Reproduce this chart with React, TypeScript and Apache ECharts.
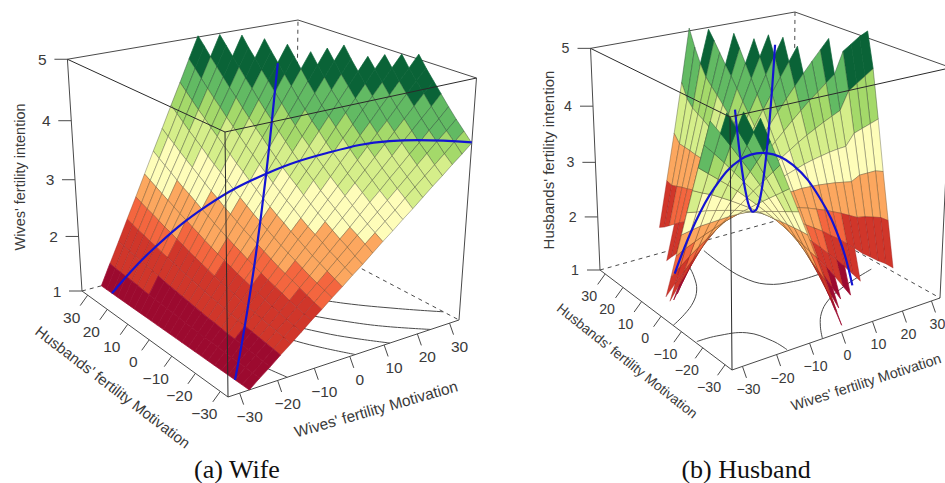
import React, { useEffect, useRef } from "react";
import * as echarts from "echarts";

const LIM = 33;
const _ = null;
const gridAxis = [-33,-30.25,-27.5,-24.75,-22,-19.25,-16.5,-13.75,-11,-8.25,-5.5,-2.75,0,2.75,5.5,8.25,11,13.75,16.5,19.25,22,24.75,27.5,30.25,33];
const ticks = [-30,-20,-10,0,10,20,30];
const zTicks = [1,2,3,4,5];
const bandBreaks = [1.43,2.0,2.29,2.77,3.27,3.8,4.09,4.56,9];
const bandFill = ["#9c0a2f","#d0362a","#f4663f","#fca75f","#fefdb9","#d5ee8a","#a4d96a","#62ba63","#0a6337"];
const bandStroke = ["#9c0a2f","rgba(150,30,30,.5)","rgba(120,60,30,.55)","rgba(110,80,40,.6)","rgba(90,90,70,.6)","rgba(70,80,50,.6)","rgba(60,80,50,.65)","rgba(40,80,50,.65)","#0a6337"];

// Rows run over husbands' motivation (gridAxis), columns over wives' motivation (gridAxis).
const wifeZ = [
[_,_,1,1.14,1.27,1.41,1.54,1.68,1.82,1.95,2.09,2.22,2.36,2.49,2.63,2.77,2.90,3.04,3.17,3.31,3.45,3.58,3.72,3.85,3.99],
[_,_,1,1.14,1.28,1.43,1.57,1.71,1.85,1.99,2.14,2.28,2.42,2.56,2.71,2.85,2.99,3.13,3.28,3.42,3.56,3.70,3.84,3.99,4.13],
[_,_,1,1.15,1.30,1.45,1.60,1.74,1.89,2.04,2.19,2.34,2.49,2.64,2.79,2.93,3.08,3.23,3.38,3.53,3.68,3.83,3.98,4.12,4.27],
[_,_,1,1.16,1.31,1.47,1.62,1.78,1.93,2.09,2.24,2.40,2.55,2.71,2.86,3.02,3.18,3.33,3.49,3.64,3.80,3.95,4.11,4.26,4.42],
[_,_,1,1.16,1.33,1.49,1.65,1.81,1.98,2.14,2.30,2.46,2.63,2.79,2.95,3.11,3.28,3.44,3.60,3.76,3.93,4.09,4.25,4.41,4.58],
[_,_,1,1.17,1.34,1.51,1.68,1.85,2.02,2.19,2.36,2.53,2.70,2.87,3.04,3.21,3.38,3.55,3.72,3.89,4.06,4.23,4.40,4.57,4.74],
[_,_,1,1.18,1.35,1.53,1.71,1.89,2.06,2.24,2.42,2.60,2.77,2.95,3.13,3.31,3.48,3.66,3.84,4.02,4.19,4.37,4.55,4.73,4.90],
[_,_,1,1.19,1.37,1.56,1.74,1.93,2.11,2.30,2.48,2.67,2.85,3.04,3.22,3.41,3.60,3.78,3.97,4.15,4.34,4.52,4.71,4.89,5.08],
[_,_,1,1.19,1.39,1.58,1.78,1.97,2.16,2.36,2.55,2.75,2.94,3.13,3.33,3.52,3.71,3.91,4.10,4.30,4.49,4.68,4.88,5.07],
[_,_,1,1.20,1.40,1.61,1.81,2.01,2.21,2.42,2.62,2.82,3.02,3.23,3.43,3.63,3.83,4.04,4.24,4.44,4.64,4.85,5.05],
[_,_,1,1.21,1.42,1.63,1.84,2.06,2.27,2.48,2.69,2.90,3.11,3.32,3.53,3.75,3.96,4.17,4.38,4.59,4.80,5.01],
[_,_,1,1.22,1.44,1.66,1.88,2.10,2.32,2.54,2.76,2.98,3.20,3.42,3.64,3.86,4.08,4.30,4.52,4.74,4.96],
[_,_,1,1.23,1.46,1.69,1.92,2.15,2.38,2.61,2.84,3.07,3.30,3.53,3.76,3.99,4.22,4.45,4.68,4.91,5.14],
[_,_,1,1.24,1.48,1.72,1.96,2.20,2.44,2.68,2.92,3.16,3.40,3.64,3.88,4.12,4.36,4.60,4.84,5.08],
[_,_,1,1.25,1.50,1.75,2.00,2.25,2.50,2.75,3.00,3.26,3.51,3.76,4.01,4.26,4.51,4.76,5.01],
[_,_,1,1.26,1.52,1.78,2.04,2.31,2.57,2.83,3.09,3.35,3.61,3.87,4.13,4.40,4.66,4.92],
[_,_,1,1.27,1.54,1.82,2.09,2.36,2.63,2.90,3.18,3.45,3.72,3.99,4.26,4.54,4.81,5.08],
[_,_,1,1.28,1.57,1.85,2.13,2.42,2.70,2.98,3.26,3.55,3.83,4.11,4.40,4.68,4.96],
[_,_,1,1.29,1.59,1.88,2.18,2.47,2.77,3.06,3.35,3.65,3.94,4.24,4.53,4.83,5.12],
[_,_,1,1.31,1.61,1.92,2.22,2.53,2.83,3.14,3.45,3.75,4.06,4.36,4.67,4.97],
[_,_,1,1.32,1.63,1.95,2.27,2.59,2.90,3.22,3.54,3.86,4.17,4.49,4.81,5.13],
[_,_,1,1.33,1.66,1.99,2.32,2.65,2.98,3.30,3.63,3.96,4.29,4.62,4.95],
[_,_,1,1.34,1.68,2.02,2.36,2.71,3.05,3.39,3.73,4.07,4.41,4.75,5.09],
[_,_,1,1.35,1.71,2.06,2.41,2.77,3.12,3.47,3.83,4.18,4.54,4.89],
[_,_,1,1.37,1.73,2.10,2.46,2.83,3.20,3.56,3.93,4.29,4.66,5.02],
];
const husbandZ = [
[_,_,_,4.88,4.49,4.09,3.68,3.27,2.85,2.43,2.00,1.56,1.12],
[_,_,4.96,4.62,4.28,3.93,3.57,3.21,2.85,2.47,2.09,1.71,1.31],
[_,4.93,4.65,4.36,4.07,3.77,3.46,3.15,2.84,2.51,2.18,1.85,1.51,1.16],
[4.79,4.57,4.34,4.10,3.86,3.61,3.35,3.09,2.83,2.55,2.28,1.99,1.70,1.40,1.10],
[4.37,4.20,4.02,3.83,3.64,3.45,3.24,3.03,2.82,2.59,2.37,2.13,1.89,1.65,1.39,1.14],
[3.96,3.83,3.70,3.57,3.43,3.28,3.13,2.97,2.80,2.63,2.46,2.27,2.08,1.89,1.69,1.48,1.26,1.04],
[3.54,3.46,3.39,3.30,3.21,3.11,3.01,2.90,2.79,2.67,2.54,2.41,2.27,2.13,1.98,1.82,1.66,1.49,1.31,1.13],
[3.12,3.09,3.07,3.03,2.99,2.95,2.90,2.84,2.77,2.70,2.63,2.55,2.46,2.36,2.26,2.16,2.04,1.93,1.80,1.67,1.53,1.42,1.30,1.20,1.07],
[2.69,2.72,2.75,2.76,2.77,2.78,2.78,2.77,2.76,2.74,2.71,2.68,2.64,2.60,2.55,2.49,2.43,2.36,2.29,2.21,2.13,2.10,2.05,2.00,1.90],
[2.27,2.35,2.42,2.49,2.55,2.61,2.66,2.70,2.74,2.77,2.79,2.82,2.83,2.83,2.84,2.83,2.82,2.80,2.78,2.75,2.72,2.80,2.80,2.80,2.75],
[1.84,1.97,2.10,2.22,2.33,2.44,2.54,2.63,2.72,2.80,2.88,2.95,3.01,3.07,3.12,3.17,3.21,3.24,3.27,3.29,3.30,3.50,3.55,3.60,3.65],
[1.42,1.60,1.77,1.94,2.10,2.26,2.41,2.56,2.70,2.83,2.96,3.08,3.19,3.30,3.40,3.50,3.59,3.67,3.75,3.82,3.89,4.20,4.30,4.40,4.50],
[_,1.22,1.45,1.66,1.88,2.09,2.29,2.48,2.67,2.86,3.03,3.20,3.37,3.53,3.68,3.83,3.97,4.11,4.23,4.36,4.48,4.85,4.95,5.05,5.12],
[_,_,1.12,1.39,1.65,1.91,2.16,2.41,2.65,2.88,3.11,3.33,3.55,3.76,3.96,4.16,4.35,4.54,4.72,4.89,5.06],
[_,_,_,1.11,1.42,1.73,2.04,2.33,2.62,2.91,3.19,3.46,3.73,3.99,4.24,4.49,4.73,4.97],
[_,_,_,_,1.19,1.55,1.90,2.25,2.59,2.93,3.26,3.58,3.90,4.21,4.52,4.82,5.11],
[_,_,_,_,_,1.37,1.78,2.17,2.57,2.95,3.33,3.71,4.07,4.44,4.79,5.14],
[_,_,_,_,_,1.19,1.64,2.09,2.53,2.97,3.40,3.83,4.25,4.66,5.06],
[_,_,_,_,_,1.00,1.51,2.01,2.50,2.99,3.47,3.95,4.42,4.88],
[_,_,_,_,_,_,1.37,1.92,2.47,3.01,3.54,4.07,4.58,5.10],
[_,_,_,_,_,_,1.24,1.84,2.43,3.02,3.61,4.18,4.75],
[_,_,_,_,_,_,1.10,1.75,2.40,3.04,3.67,4.30,4.92],
[_,_,_,_,_,_,_,1.66,2.36,3.05,3.73,4.50,5.08],
[_,_,_,_,_,_,_,1.57,2.32,3.06,3.85,4.75],
[_,_,_,_,_,_,_,1.50,2.35,3.20,4.10,5.05],
];

const wifeCong = [[-27.5,1],[-20,1.46],[-10,2.25],[0,3.3],[10,4.66],[11,4.8]];
const wifeIncong = [[-27.5,1],[-20,1.84],[-10,2.70],[0,3.3],[10,3.7],[20,3.95],[33,4.0]];
const husCong = [[-29,4.99],[-25,4.15],[-20,3.37],[-15,2.9],[-10,2.75],[-5,2.9],[0,3.37],[5,4.15],[9,4.99]];
const husIncong = [[-18,1.05],[-14,1.98],[-10,2.68],[-5,3.22],[0,3.37],[5,3.19],[10,2.65],[14,1.9],[16.5,1.1]];

const wifeContours = [
 [[-17.4,-33],[-18.85,-26],[-19.83,-20],[-21.14,-10],[-22.12,0]],
 [[1.6,-33],[-2.5,-26],[-5.4,-20],[-9.1,-10],[-11.9,0]],
 [[11.7,-33],[6.2,-26],[2.3,-20],[-2.7,-10],[-6.6,0]],
 [[24.1,-33],[16.7,-26],[11.7,-20],[5,-10],[0,0]],
 [[33,-27.5],[25.3,-20],[16.3,-10],[9.5,0]],
];
const husContours = [
 [[-2.6,27.4],[-3.4,16.6],[-3.1,6.9],[-0.2,-0.2],[6.9,-3.1],[16.6,-3.4],[27.4,-2.6]],
 [[-32.5,-16.5],[-26.9,-16.9],[-19.8,-19.8],[-16.9,-26.9],[-16.5,-32.5]],
 [[-33,-6],[-27.5,-2.5],[-22,2],[-17.5,7.5],[-14.1,14.1],[-11.4,21.4],[-9.1,29.1]],
 [[-6,-33],[-2.5,-27.5],[2,-22],[7.5,-17.5],[14.1,-14.1],[21.4,-11.4],[29.1,-9.1]],
];

type Pt = number[];
function makeProjector(O: Pt, U: Pt, V: Pt, T: Pt, D: Pt, LT: Pt, RT: Pt) {
  const h = (p: Pt) => [p[0], p[1], 1];
  const [o, u, v, t, d] = [O, U, V, T, D].map(h);
  const det = (a: Pt, b: Pt, c: Pt) => a[0]*(b[1]*c[2]-b[2]*c[1]) - a[1]*(b[0]*c[2]-b[2]*c[0]) + a[2]*(b[0]*c[1]-b[1]*c[0]);
  const build = (s: number) => {
    const r = [0,1,2].map(i => s*d[i] + 2*o[i]);
    const D0 = det(u, v, t);
    const a = det(r, v, t)/D0, b = det(u, r, t)/D0, c = det(u, v, r)/D0;
    const c1 = [0,1,2].map(i => a*u[i]-o[i]);
    const c2 = [0,1,2].map(i => b*v[i]-o[i]);
    const c3 = [0,1,2].map(i => c*t[i]-o[i]);
    return (x: number, y: number, z: number) => {
      const q = [0,1,2].map(i => x*c1[i]+y*c2[i]+z*c3[i]+o[i]);
      return [q[0]/q[2], q[1]/q[2]];
    };
  };
  let best = 1, bestErr = Infinity;
  for (let k = -400; k <= 400; k++) {
    const s = Math.exp(k/100), f = build(s);
    const a = f(0,1,1), b = f(1,0,1);
    const e = (a[0]-LT[0])**2+(a[1]-LT[1])**2+(b[0]-RT[0])**2+(b[1]-RT[1])**2;
    if (e < bestErr) { bestErr = e; best = s; }
  }
  const f = build(best);
  return (w: number, hh: number, z: number) => f((w+LIM)/(2*LIM), (hh+LIM)/(2*LIM), (z-1)/4);
}

const wifeProj = makeProjector([228,397],[459,320],[82,291],[225,132],[298,20],[69,59],[475,79]);
const husProj = makeProjector([732,370],[940,298],[600,270],[730,117],[795,12],[588,49],[948,68]);

const lineColor = "#4a4a4a";
function panelSeries(proj: any, table: any[][], cong: number[][], incong: number[][], contours: number[][][]) {
  const cells: number[][] = [];
  for (let i = 23; i >= 0; i--) for (let j = 23; j >= 0; j--) {
    if (table[i][j]!=null && table[i+1][j]!=null && table[i][j+1]!=null && table[i+1][j+1]!=null) cells.push([i,j]);
  }
  const seg = (pts: number[][], opt: any = {}) => ({ pts, ...opt });
  const backLines = [
    seg([proj(-LIM,LIM,5),proj(LIM,LIM,5),proj(LIM,-LIM,5)]),
    seg([proj(-LIM,LIM,1),proj(LIM,LIM,1),proj(LIM,-LIM,1)],{dash:[4,4]}),
    seg([proj(LIM,LIM,1),proj(LIM,LIM,5)],{dash:[4,4]}),
    seg([proj(-LIM,LIM,1),proj(-LIM,LIM,5)]),
    seg([proj(LIM,-LIM,1),proj(LIM,-LIM,5)]),
    seg([proj(-LIM,LIM,1),proj(-LIM,-LIM,1),proj(LIM,-LIM,1)]),
  ];
  ticks.forEach(t => {
    const a = proj(-LIM,t,1); backLines.push(seg([a,[a[0]-7.5,a[1]+10.5]]));
    const b = proj(t,-LIM,1); backLines.push(seg([b,[b[0]+4,b[1]+11.5]]));
  });
  zTicks.forEach(z => { const a = proj(-LIM,LIM,z); backLines.push(seg([a,[a[0]-13,a[1]]])); });
  contours.forEach(c => backLines.push(seg(c.map(p => proj(p[0],p[1],1)),{smooth:true})));
  const frontLines = [
    seg([proj(-LIM,LIM,5),proj(-LIM,-LIM,5),proj(LIM,-LIM,5)],{color:"#2a2a2a"}),
    seg([proj(-LIM,-LIM,1),proj(-LIM,-LIM,5)],{color:"#2a2a2a"}),
  ];
  const blue = [
    seg(cong.map(p => proj(p[0],p[0],p[1])),{color:"#1414d2",width:2.2,smooth:true}),
    seg(incong.map(p => proj(p[0],-p[0],p[1])),{color:"#1414d2",width:2.2,smooth:true}),
  ];
  const lineSeries = (list: any[]) => ({
    type:"custom", coordinateSystem:"cartesian2d", silent:true, clip:false,
    data:list.map((_x,i)=>[i]),
    renderItem:(p:any,api:any)=>{
      const s=list[api.value(0)];
      return {type:"polyline",shape:{points:s.pts.map((q:number[])=>api.coord(q)),smooth:s.smooth?0.4:0},
        style:{fill:null,stroke:s.color||lineColor,lineWidth:s.width||1,lineDash:s.dash||null}};
    },
  });
  const surface = {
    type:"custom", coordinateSystem:"cartesian2d", silent:true, clip:false,
    data:cells,
    renderItem:(p:any,api:any)=>{
      const i=api.value(0), j=api.value(1);
      const corners=[[i,j],[i,j+1],[i+1,j+1],[i+1,j]];
      const zs=corners.map(c=>table[c[0]][c[1]]);
      const mean=zs.reduce((a,b)=>a+b,0)/4;
      const band=bandBreaks.findIndex(b=>mean<b);
      const pts=corners.map((c,k)=>api.coord(proj(gridAxis[c[1]],gridAxis[c[0]],zs[k])));
      return {type:"polygon",shape:{points:pts},style:{fill:bandFill[band],stroke:bandStroke[band],lineWidth:0.7}};
    },
  };
  return [lineSeries(backLines),surface,lineSeries(blue),lineSeries(frontLines)];
}

function panelTexts(proj:any, zTitle:string, zPos:number[], hPos:number[], hRot:number, wPos:number[], wRot:number, caption:string, capPos:number[], wDx:number, tickSize:number, hSize:number, wSize:number, zSize:number) {
  const out:any[]=[];
  const tick=(s:string,x:number,y:number)=>out.push({type:"text",x,y,style:{text:s,font:tickSize+"px 'Liberation Sans'",fill:"#3a3a3a",textAlign:"center",textVerticalAlign:"middle"}});
  const fmt=(t:number)=>t<0?"\u2212"+(-t):String(t);
  ticks.forEach(t=>{const a=proj(-LIM,t,1);tick(fmt(t),a[0]-16,a[1]+22);const b=proj(t,-LIM,1);tick(fmt(t),b[0]+wDx,b[1]+23);});
  zTicks.forEach(z=>{const a=proj(-LIM,LIM,z);tick(String(z),a[0]-25,a[1]);});
  const title=(s:string,p:number[],deg:number,size:number)=>out.push({type:"text",x:p[0],y:p[1],rotation:deg*Math.PI/180,style:{text:s,font:size+"px 'Liberation Sans'",fill:"#3a3a3a",textAlign:"center",textVerticalAlign:"middle"}});
  title(zTitle,zPos,90,zSize);title("Husbands' fertility Motivation",hPos,hRot,hSize);title("Wives' fertility Motivation",wPos,wRot,wSize);
  out.push({type:"text",x:capPos[0],y:capPos[1],style:{text:caption,font:"26px 'Liberation Serif'",fill:"#111",textAlign:"center",textVerticalAlign:"middle"}});
  return out;
}

export default function App(){
  const ref=useRef<HTMLDivElement>(null);
  useEffect(()=>{
    const chart=echarts.init(ref.current!,null,{renderer:"svg"});
    chart.setOption({
      animation:false,
      backgroundColor:"#fff",
      grid:{left:0,right:0,top:0,bottom:0},
      xAxis:{type:"value",min:0,max:945,show:false},
      yAxis:{type:"value",min:0,max:483,inverse:true,show:false},
      series:[...panelSeries(wifeProj,wifeZ,wifeCong,wifeIncong,wifeContours),...panelSeries(husProj,husbandZ,husCong,husIncong,husContours)],
      graphic:[...panelTexts(wifeProj,"Wives' fertility intention",[20,177],[113,387],-37.4,[376,409],16,"(a) Wife",[237,469],10,15.5,15,15.5,14.5),
               ...panelTexts(husProj,"Husbands' fertility intention",[548,160],[627,361],-38.5,[866,382],18,"(b) Husband",[746,469],6,14.2,13.8,14.4,15)],
    });
    return ()=>chart.dispose();
  },[]);
  return <div ref={ref} style={{position:"fixed",left:0,top:0,width:945,height:483}}/>;
}
